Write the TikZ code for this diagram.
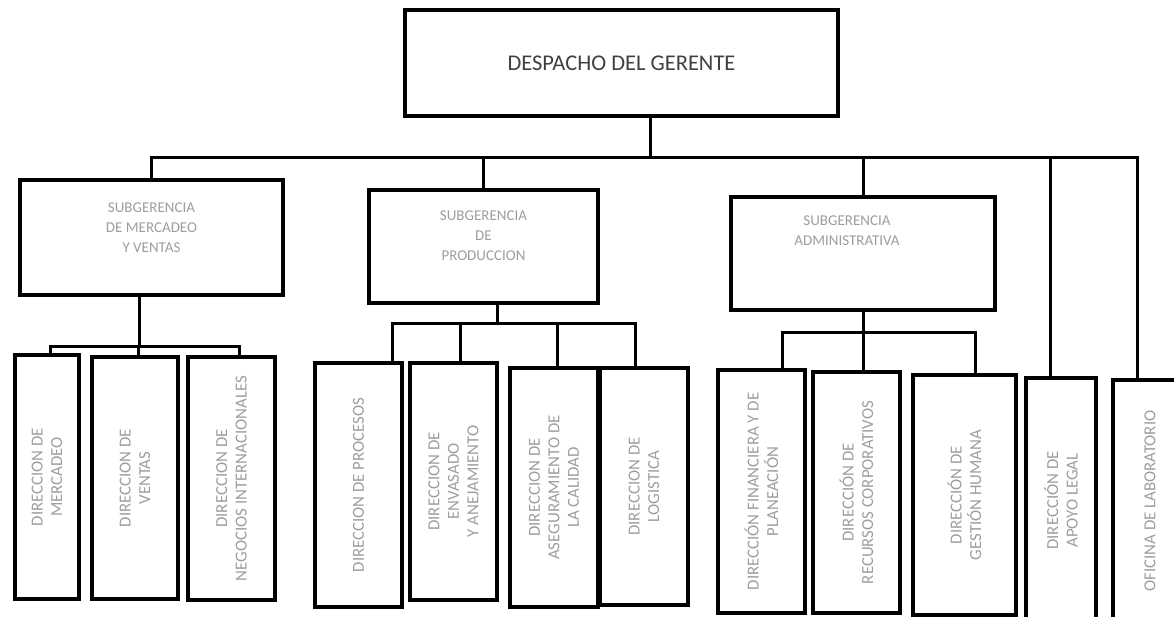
\documentclass[tikz,border=0pt]{standalone}
\usepackage{fontspec}
\setmainfont{Carlito}
\usetikzlibrary{
  calc,
  positioning,
}
\tikzset{
  box/.style = {draw=black, line width=3.1pt, fill=white,
      inner sep=0pt, outer sep=0pt},
  conn/.style = {draw=black, line width=3pt},
  subtxt/.style = {text=black!38, align=center, inner sep=0pt,
      font=\fontsize{15}{20}\selectfont},
  dirtxt/.style = {text=black!38, align=center, inner sep=0pt,
      rotate=90, font=\fontsize{16.8}{19.5}\selectfont},
}

\begin{document}
\begin{tikzpicture}[x=1pt, y=-1pt]
  \useasboundingbox (0,0) rectangle (1174,616);
  \clip (0,0) rectangle (1174,616);

  % despacho
  \node[box, minimum width=433, minimum height=106, text=black!75,
    font=\fontsize{22.5}{26}\selectfont] (ger) at (621.5,63) {DESPACHO DEL GERENTE};

  % subgerencias
  \node[box, minimum width=263, minimum height=115] (mer) at (151.5,237.5) {};
  \node[box, minimum width=229, minimum height=113] (pro) at (483.5,246.5) {};
  \node[box, minimum width=264, minimum height=113] (adm) at (863,253.5) {};

  \node[subtxt, below=23pt of mer.north] (mer txt) {SUBGERENCIA\\DE MERCADEO\\Y VENTAS};
  \node[subtxt, below=21pt of pro.north] (pro txt) {SUBGERENCIA\\DE\\PRODUCCION};
  \node[subtxt, below=19pt of adm.north, xshift=-16pt] (adm txt) {SUBGERENCIA\\ADMINISTRATIVA};

  % direcciones
  \foreach \n/\x/\y/\w/\h/\lbl in {
    mkt/47/477/64/244/{DIRECCION DE\\MERCADEO},
    ven/135/478/86/242/{DIRECCION DE\\VENTAS},
    neg/231.5/478.5/87/243/{DIRECCION DE\\NEGOCIOS INTERNACIONALES},
    prc/358.5/485/87/244/{DIRECCION DE PROCESOS},
    env/453.5/481.5/87/237/{DIRECCION DE\\ENVASADO\\Y ANEJAMIENTO},
    cal/554/487.5/88/239/{DIRECCION DE\\ASEGURAMIENTO DE\\LA CALIDAD},
    log/644/486.5/88/237/{DIRECCION DE\\LOGISTICA},
    fin/761.5/491.5/87/243/{DIRECCIÓN FINANCIERA Y DE\\PLANEACIÓN},
    rec/856.5/492.5/87/241/{DIRECCIÓN DE\\RECURSOS CORPORATIVOS},
    ges/964.5/495/103/240/{DIRECCIÓN DE\\GESTIÓN HUMANA},
    leg/1061/500.5/70/245/{DIRECCIÓN DE\\APOYO LEGAL},
    lab/1150/501/74/242/{OFICINA DE LABORATORIO}%
  }{
    \node[box, minimum width=\w, minimum height=\h] (\n) at (\x,\y) {};
    \node[dirtxt] (\n txt) at (\n) {\lbl};
  }

  % ramas principales
  \coordinate (bus) at (0,157);
  \draw[conn] ([xshift=29pt]ger.south) -- ([xshift=29pt]ger.south |- bus);
  \draw[conn] (mer.north) |- ([xshift=-13pt]lab.north |- bus) -- ([xshift=-13pt]lab.north);
  \draw[conn] (pro.north) -- (pro.north |- bus);
  \draw[conn] (adm.north) -- (adm.north |- bus);
  \draw[conn] ([xshift=-11pt]leg.north) -- ([xshift=-11pt]leg.north |- bus);

  % mercadeo y ventas
  \coordinate (busm) at (0,346);
  \draw[conn] ([xshift=-12pt]mer.south) -- ([xshift=-12pt]mer.south |- busm);
  \draw[conn] ([xshift=3pt]mkt.north) |- ([xshift=7.5pt]neg.north |- busm) -- ([xshift=7.5pt]neg.north);
  \draw[conn] ([xshift=3pt]ven.north) -- ([xshift=3pt]ven.north |- busm);

  % produccion
  \coordinate (busp) at (0,323);
  \draw[conn] ([xshift=13.5pt]pro.south) -- ([xshift=13.5pt]pro.south |- busp);
  \draw[conn] ([xshift=33.5pt]prc.north) |- ([xshift=-9pt]log.north |- busp) -- ([xshift=-9pt]log.north);
  \draw[conn] ([xshift=6.5pt]env.north) -- ([xshift=6.5pt]env.north |- busp);
  \draw[conn] ([xshift=3pt]cal.north) -- ([xshift=3pt]cal.north |- busp);

  % administrativa
  \coordinate (busa) at (0,332);
  \draw[conn] (adm.south) -- (adm.south |- busa);
  \draw[conn] ([xshift=20.5pt]fin.north) |- ([xshift=10.5pt]ges.north |- busa) -- ([xshift=10.5pt]ges.north);
  \draw[conn] ([xshift=6.5pt]rec.north) -- ([xshift=6.5pt]rec.north |- busa);
\end{tikzpicture}
\end{document}
